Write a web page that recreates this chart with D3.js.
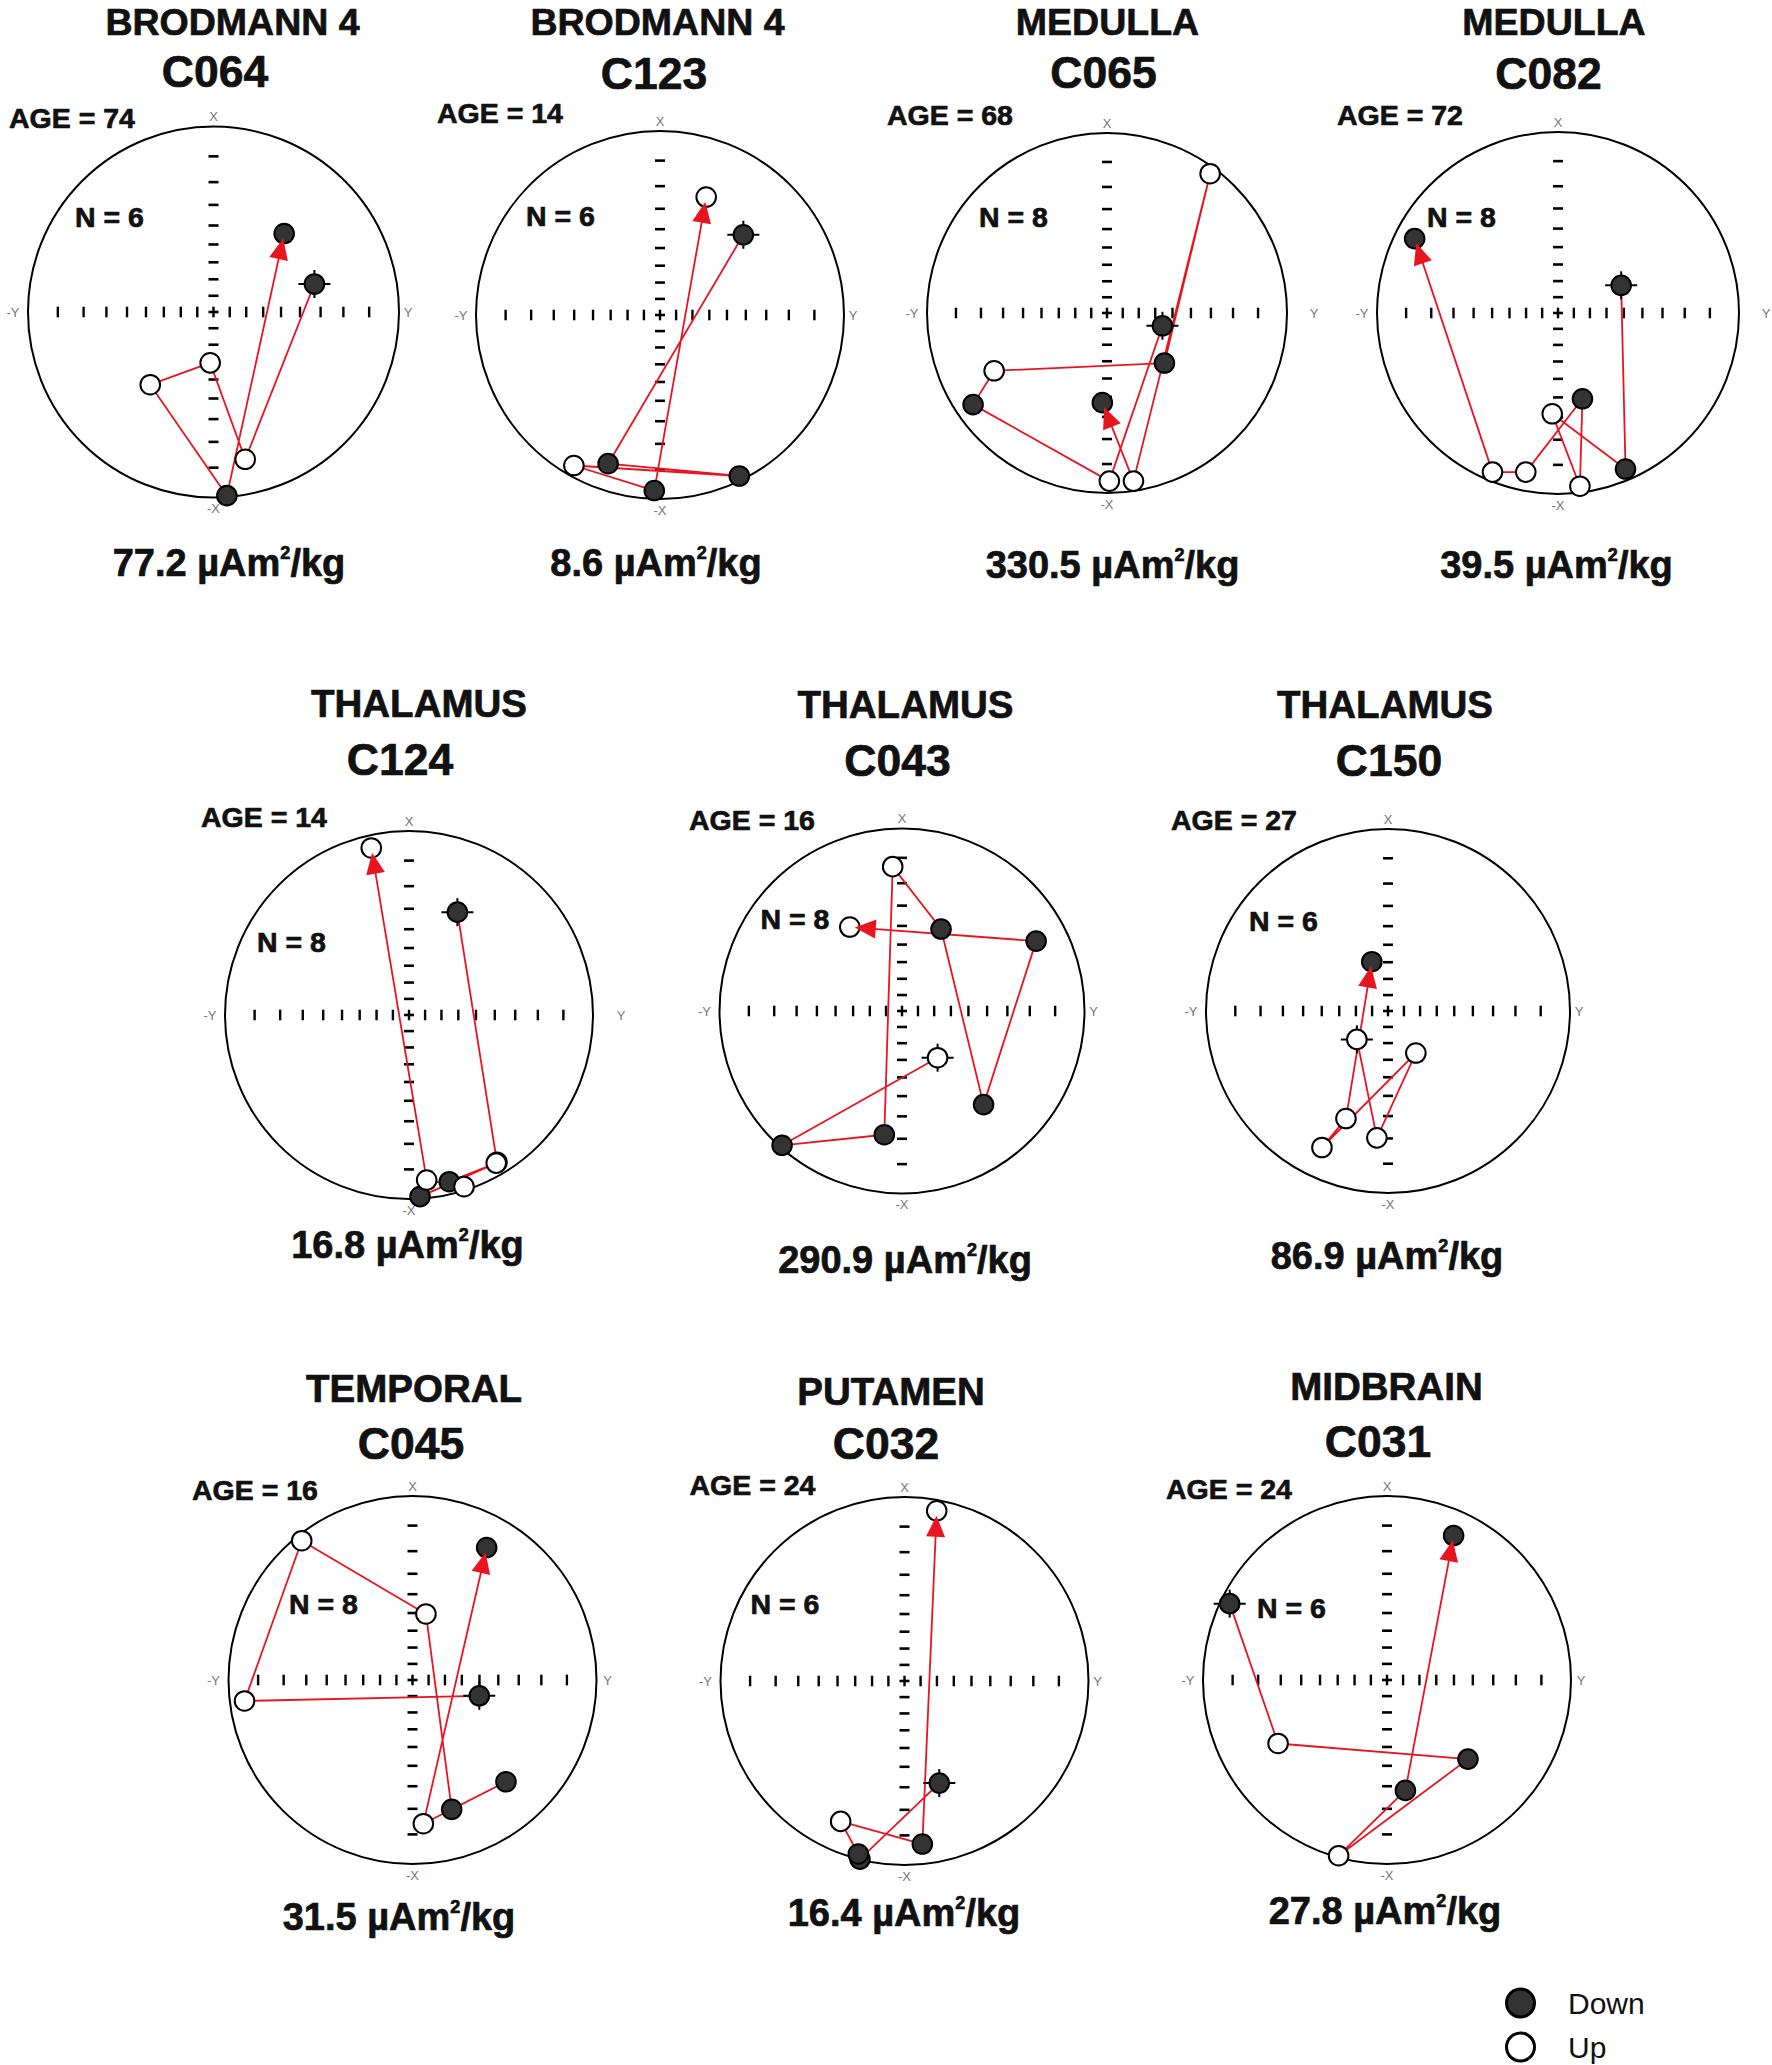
<!DOCTYPE html>
<html>
<head>
<meta charset="utf-8">
<script src="https://cdn.jsdelivr.net/npm/d3@7"></script>
<style>
html, body { margin: 0; padding: 0; background: #fff; }
svg { display: block; }
</style>
</head>
<body>
<svg id="chart" width="1772" height="2065"></svg>
<script>
// ---------------- DATA ----------------
const regions   = ["BRODMANN 4", "BRODMANN 4", "MEDULLA", "MEDULLA", "THALAMUS", "THALAMUS", "THALAMUS", "TEMPORAL", "PUTAMEN", "MIDBRAIN"];
const specimens = ["C064", "C123", "C065", "C082", "C124", "C043", "C150", "C045", "C032", "C031"];
const ages      = [74, 14, 68, 72, 14, 16, 27, 16, 24, 24];
const nSteps    = [6, 6, 8, 8, 8, 8, 6, 8, 6, 6];
const moments   = [77.2, 8.6, 330.5, 39.5, 16.8, 290.9, 86.9, 31.5, 16.4, 27.8];

// demagnetization paths, projected stereonet coords: [Y (east), X (north), 1 = down / 0 = up]
const path_C064 = [[0.544, 0.151, 1], [0.171, -0.794, 0], [-0.018, -0.274, 0], [-0.341, -0.392, 0], [0.072, -0.990, 1], [0.381, 0.423, 1]];
const path_C123 = [[0.453, 0.436, 1], [-0.282, -0.808, 1], [0.431, -0.875, 1], [-0.468, -0.818, 0], [-0.031, -0.954, 1], [0.251, 0.641, 0]];
const path_C065 = [[0.308, -0.071, 1], [0.013, -0.934, 0], [-0.744, -0.509, 1], [-0.627, -0.321, 0], [0.319, -0.278, 1], [0.573, 0.774, 0], [0.147, -0.934, 0], [-0.026, -0.498, 1]];
const path_C082 = [[0.349, 0.153, 1], [0.373, -0.862, 1], [-0.032, -0.557, 0], [0.121, -0.957, 0], [0.135, -0.474, 1], [-0.178, -0.879, 0], [-0.362, -0.879, 0], [-0.792, 0.411, 1]];
const path_C124 = [[0.263, 0.559, 1], [0.478, -0.800, 0], [0.060, -0.987, 1], [0.474, -0.805, 0], [0.219, -0.906, 1], [0.299, -0.933, 0], [0.096, -0.897, 0], [-0.205, 0.908, 0]];
const path_C043 = [[0.195, -0.256, 0], [-0.657, -0.736, 1], [-0.097, -0.678, 1], [-0.051, 0.791, 0], [0.214, 0.449, 1], [0.447, -0.513, 1], [0.735, 0.383, 1], [-0.286, 0.460, 0]];
const path_C150 = [[-0.171, -0.156, 0], [-0.061, -0.697, 0], [0.153, -0.231, 0], [-0.363, -0.750, 0], [-0.231, -0.591, 0], [-0.089, 0.271, 1]];
const path_C045 = [[0.363, -0.086, 1], [-0.913, -0.114, 0], [-0.602, 0.757, 0], [0.073, 0.359, 0], [0.213, -0.703, 1], [0.508, -0.553, 1], [0.059, -0.781, 0], [0.403, 0.720, 1]];
const path_C032 = [[0.189, -0.555, 1], [-0.242, -0.968, 1], [-0.251, -0.940, 1], [-0.347, -0.763, 0], [0.097, -0.886, 1], [0.175, 0.925, 0]];
const path_C031 = [[-0.855, 0.415, 1], [-0.592, -0.345, 0], [0.440, -0.430, 1], [-0.263, -0.955, 0], [0.100, -0.600, 1], [0.362, 0.785, 1]];
const paths = [path_C064, path_C123, path_C065, path_C082, path_C124, path_C043, path_C150, path_C045, path_C032, path_C031];

const tickAngles   = [10, 20, 30, 40, 50, 60, 70, 80];   // degrees from centre (stereographic)
const axisLabels   = ["X", "-X", "Y", "-Y"];
const legendLabels = ["Down", "Up"];

// ---------------- LAYOUT (positions / sizes only) ----------------
const layout = [
  {cx: 213.5, cy: 312,  r: 185.5, title: [232.5, 35],   tSize: 37.5, id: [215, 87],      age: [9, 128],     n: [75, 227],     val: [229, 576],    yGap: 5},
  {cx: 660,   cy: 315,  r: 184,   title: [657.5, 35],   tSize: 37.5, id: [654, 89],      age: [437, 123],   n: [526, 226],    val: [656, 576],    yGap: 5},
  {cx: 1107,  cy: 313,  r: 180,   title: [1107.5, 35],  tSize: 37.5, id: [1103.5, 88],   age: [887, 125],   n: [979, 227],    val: [1112.5, 578], yGap: 23},
  {cx: 1558,  cy: 313,  r: 181,   title: [1554, 35],    tSize: 37.5, id: [1548.5, 89],   age: [1337, 125],  n: [1427, 227],   val: [1556.5, 578], yGap: 23},
  {cx: 409,   cy: 1015, r: 184,   title: [419, 717],    tSize: 38.5, id: [400, 775],     age: [201, 827],   n: [257, 952],    val: [407.5, 1258], yGap: 24},
  {cx: 902,   cy: 1011, r: 182.5, title: [905.5, 718],  tSize: 38.5, id: [897.5, 776],   age: [689, 829.5], n: [760.5, 929],  val: [905, 1273],   yGap: 5},
  {cx: 1388,  cy: 1011, r: 182,   title: [1385, 718],   tSize: 38.5, id: [1389, 776],    age: [1171, 829.5],n: [1249, 931],   val: [1387, 1269],  yGap: 5},
  {cx: 412.5, cy: 1680, r: 184,   title: [414, 1402],   tSize: 38.5, id: [411, 1459],    age: [192, 1500],  n: [289, 1613.5], val: [399, 1930],   yGap: 7},
  {cx: 904.5, cy: 1681, r: 184,   title: [891, 1405],   tSize: 38.5, id: [886, 1459],    age: [689.5, 1495],n: [750.5, 1613.5],val: [904, 1926],  yGap: 5},
  {cx: 1387,  cy: 1680, r: 184,   title: [1386.5, 1399.5], tSize: 38.5, id: [1378, 1457], age: [1166, 1499], n: [1257, 1617.5], val: [1385, 1924], yGap: 6}
];

// ---------------- DRAW ----------------
const svg  = d3.select("#chart");
const FONT = "'Liberation Sans', Arial, Helvetica, sans-serif";
const RED  = "#e8141f";
const INK  = "#111";
const DOWN_FILL = "#333";
const stereo = deg => Math.tan(deg * Math.PI / 360);   // tan(theta/2)

svg.append("rect").attr("width", 1772).attr("height", 2065).attr("fill", "#fff");

function boldText(g, pos, size, anchor) {
  return g.append("text").attr("x", pos[0]).attr("y", pos[1])
    .attr("text-anchor", anchor).attr("font-family", FONT).attr("font-weight", "bold")
    .attr("font-size", size).attr("fill", INK)
    .attr("stroke", INK).attr("stroke-width", 0.7).attr("stroke-linejoin", "round");
}

layout.forEach((L, i) => {
  const g = svg.append("g").attr("class", "panel");
  const x = d3.scaleLinear().domain([-1, 1]).range([L.cx - L.r, L.cx + L.r]);
  const y = d3.scaleLinear().domain([-1, 1]).range([L.cy + L.r, L.cy - L.r]);
  const R = x(1) - x(0);

  // outer circle
  g.append("circle").attr("cx", x(0)).attr("cy", y(0)).attr("r", R)
    .attr("fill", "none").attr("stroke", "#000").attr("stroke-width", 2);

  // stereographic tick marks
  const tv = [0].concat(tickAngles.map(stereo), tickAngles.map(a => -stereo(a)));
  g.selectAll("line.tx").data(tv).join("line").attr("class", "tx")
    .attr("x1", d => x(d)).attr("x2", d => x(d))
    .attr("y1", y(0) - 5.3).attr("y2", y(0) + 5.3)
    .attr("stroke", "#000").attr("stroke-width", 2.4);
  g.selectAll("line.ty").data(tv).join("line").attr("class", "ty")
    .attr("y1", d => y(d)).attr("y2", d => y(d))
    .attr("x1", x(0) - 5).attr("x2", x(0) + 5)
    .attr("stroke", "#000").attr("stroke-width", 2.6);

  // axis labels
  const lab = [
    {t: axisLabels[0], px: x(0), py: y(1) - 10},
    {t: axisLabels[1], px: x(0), py: y(-1) + 11},
    {t: axisLabels[2], px: x(1) + L.yGap + 4, py: y(0)},
    {t: axisLabels[3], px: x(-1) - 15, py: y(0)}
  ];
  g.selectAll("text.ax").data(lab).join("text").attr("class", "ax")
    .attr("x", d => d.px).attr("y", d => d.py)
    .attr("text-anchor", "middle").attr("dominant-baseline", "central")
    .attr("font-family", FONT).attr("font-size", 13).attr("fill", "#777")
    .text(d => d.t);

  const pts = paths[i];
  const px = d => x(d[0]), py = d => y(d[1]);

  // demag path
  g.append("path").datum(pts)
    .attr("d", d3.line().x(px).y(py))
    .attr("fill", "none").attr("stroke", RED).attr("stroke-width", 1.8)
    .attr("stroke-linejoin", "round");

  // crosshair on first (NRM) point
  const p0 = pts[0];
  g.append("line").attr("x1", px(p0) - 16).attr("x2", px(p0) + 16).attr("y1", py(p0)).attr("y2", py(p0))
    .attr("stroke", "#000").attr("stroke-width", 2);
  g.append("line").attr("x1", px(p0)).attr("x2", px(p0)).attr("y1", py(p0) - 14).attr("y2", py(p0) + 14)
    .attr("stroke", "#000").attr("stroke-width", 2);

  // points
  g.selectAll("circle.pt").data(pts).join("circle").attr("class", "pt")
    .attr("cx", px).attr("cy", py).attr("r", 9.8)
    .attr("fill", d => d[2] ? DOWN_FILL : "#fff")
    .attr("stroke", "#000").attr("stroke-width", 2);

  // arrow head on last segment
  const a = pts[pts.length - 2], b = pts[pts.length - 1];
  const ax0 = px(a), ay0 = py(a), bx = px(b), by = py(b);
  const len = Math.hypot(bx - ax0, by - ay0);
  const ux = (bx - ax0) / len, uy = (by - ay0) / len;
  const tipX = bx - ux * 5, tipY = by - uy * 5;
  const baseX = tipX - ux * 21, baseY = tipY - uy * 21;
  const hw = 9.5;
  g.append("path")
    .attr("d", `M${tipX},${tipY}L${baseX - uy * hw},${baseY + ux * hw}L${baseX + uy * hw},${baseY - ux * hw}Z`)
    .attr("fill", RED).attr("stroke", "none");

  // texts
  boldText(g, L.title, L.tSize, "middle").text(regions[i]);
  boldText(g, L.id, 44.5, "middle").text(specimens[i]);
  boldText(g, L.age, 28.5, "start").text(`AGE = ${ages[i]}`);
  boldText(g, L.n, 28.5, "start").text(`N = ${nSteps[i]}`);
  const vt = boldText(g, L.val, 38, "middle");
  vt.append("tspan").text(`${moments[i].toFixed(1)} \u00B5Am`);
  vt.append("tspan").attr("font-size", 18).attr("dy", -17).text("2");
  vt.append("tspan").attr("dy", 17).text("/kg");
});

// legend
const lg = svg.append("g").attr("class", "legend");
const legY = d3.scalePoint().domain(legendLabels).range([2003, 2047]);
lg.selectAll("circle").data(legendLabels).join("circle")
  .attr("cx", 1520.5).attr("cy", d => legY(d)).attr("r", 14)
  .attr("fill", (d, k) => k === 0 ? DOWN_FILL : "#fff")
  .attr("stroke", "#000").attr("stroke-width", 3);
lg.selectAll("text").data(legendLabels).join("text")
  .attr("x", 1568).attr("y", d => legY(d) + 10.5)
  .attr("font-family", FONT).attr("font-size", 30).attr("fill", INK)
  .text(d => d);
</script>
</body>
</html>
